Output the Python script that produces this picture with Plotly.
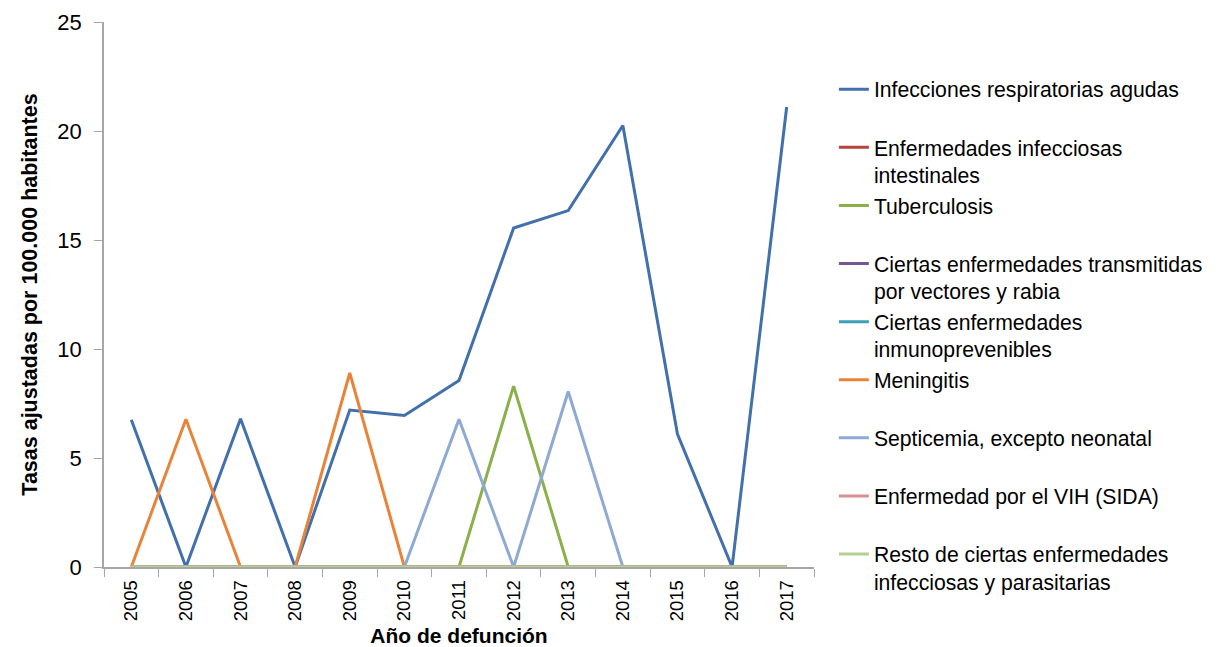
import plotly.graph_objects as go

# --- datos ---
anios = ["2005", "2006", "2007", "2008", "2009", "2010", "2011",
         "2012", "2013", "2014", "2015", "2016", "2017"]

ira = [6.75, 0, 6.8, 0, 7.2, 6.95, 8.55, 15.55, 16.35, 20.25, 6.1, 0, 21.1]
intestinales = [0, 0, 0, 0, 0, 0, 0, 0, 0, 0, 0, 0, 0]
tuberculosis = [0, 0, 0, 0, 0, 0, 0, 8.3, 0, 0, 0, 0, 0]
vectores = [0, 0, 0, 0, 0, 0, 0, 0, 0, 0, 0, 0, 0]
inmunoprev = [0, 0, 0, 0, 0, 0, 0, 0, 0, 0, 0, 0, 0]
meningitis = [0, 6.78, 0, 0, 8.9, 0, 0, 0, 0, 0, 0, 0, 0]
septicemia = [0, 0, 0, 0, 0, 0, 6.78, 0, 8.05, 0, 0, 0, 0]
vih = [0, 0, 0, 0, 0, 0, 0, 0, 0, 0, 0, 0, 0]
resto = [0, 0, 0, 0, 0, 0, 0, 0, 0, 0, 0, 0, 0]

# las entradas de una sola linea llevan un renglon vacio para igualar la altura
nombres = [
    "Infecciones respiratorias agudas<br> ",
    "Enfermedades infecciosas<br>intestinales",
    "Tuberculosis<br> ",
    "Ciertas enfermedades transmitidas<br>por vectores y rabia",
    "Ciertas enfermedades<br>inmunoprevenibles",
    "Meningitis<br> ",
    "Septicemia, excepto neonatal<br> ",
    "Enfermedad por el VIH (SIDA)<br> ",
    "Resto de ciertas enfermedades<br>infecciosas y parasitarias",
]
series = [ira, intestinales, tuberculosis, vectores, inmunoprev,
          meningitis, septicemia, vih, resto]

COLORES = ["#4170AD", "#B7433F", "#8BB04A", "#71569A", "#3C9EB9",
           "#E8843A", "#8EA9D3", "#D69292", "#B5D08E"]

EJE = "#A6A6A6"
FUENTE = "Liberation Sans, Arial, sans-serif"

fig = go.Figure()
for nom, val, col in zip(nombres, series, COLORES):
    fig.add_trace(go.Scatter(x=anios, y=val, name=nom, mode="lines",
                             line=dict(color=col, width=3), cliponaxis=False,
                             legendgroup=nom))

fig.update_layout(
    width=1224, height=647,
    margin=dict(l=104, r=410, t=22, b=80),
    plot_bgcolor="white", paper_bgcolor="white",
    font=dict(family=FUENTE, size=22, color="black"),
    showlegend=True,
    legend=dict(x=1.028, y=0.914, xanchor="left", yanchor="top",
                valign="top", tracegroupgap=0, itemwidth=30,
                font=dict(size=21.2, family=FUENTE)),
    xaxis=dict(type="category", range=[-0.5, 12.5], showgrid=False,
               automargin=False,
               showline=True, linecolor=EJE, linewidth=1.5,
               ticks="outside", tickson="boundaries", ticklen=8, tickcolor=EJE,
               tickangle=-90, tickfont=dict(size=18.5), ticklabelstandoff=4,
               layer="below traces",
               title=dict(text="<b>Año de defunción</b>", standoff=9,
                          font=dict(size=21))),
    yaxis=dict(range=[0, 25], dtick=5, showgrid=False, zeroline=False,
               automargin=False,
               showline=True, linecolor=EJE, linewidth=1.5,
               ticks="outside", ticklen=8, tickcolor=EJE, ticklabelstandoff=8,
               tickfont=dict(size=22), layer="below traces",
               title=dict(text="<b>Tasas ajustadas por 100.000 habitantes</b>",
                          standoff=14, font=dict(size=21.5))),
)

# quitar el margen por defecto del body para que el grafico quede en 0,0
fig.write_html("out.html", config={"displayModeBar": False},
               post_script="document.body.style.margin='0';")
